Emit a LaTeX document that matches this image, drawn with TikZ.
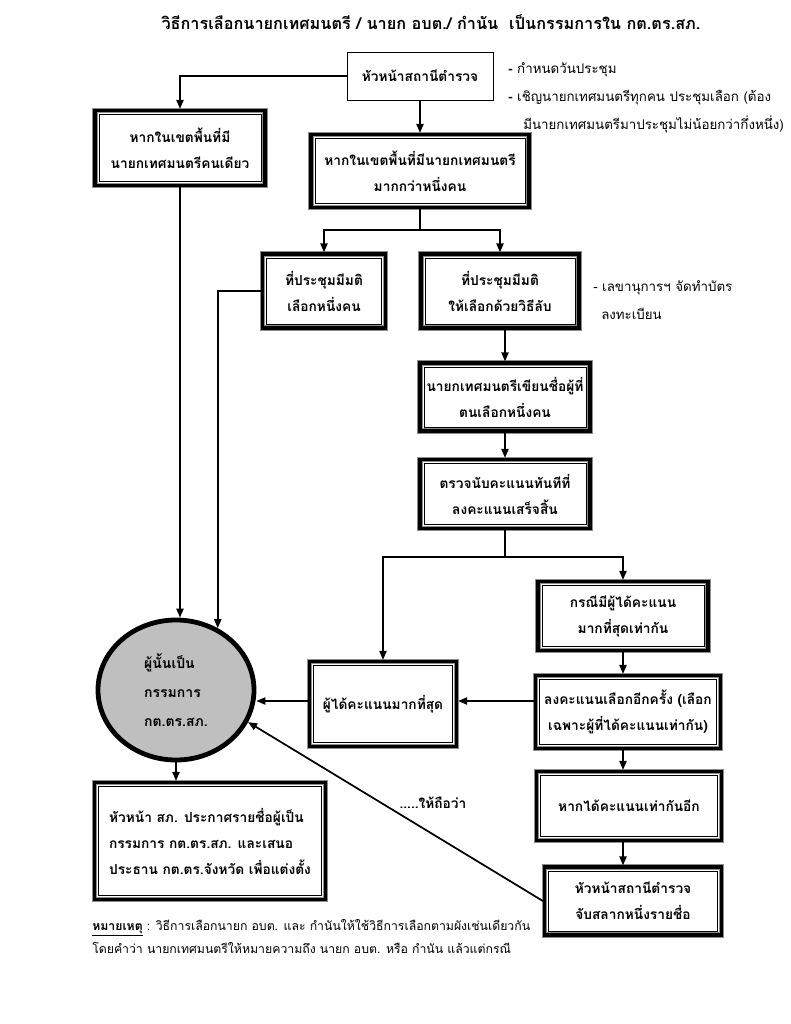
\documentclass[tikz,border=0pt]{standalone}
\usepackage{fontspec}
\newfontfamily\thai[Script=Thai]{Loma}
\usetikzlibrary{arrows.meta,shapes.geometric}
\newcommand{\boxfont}{\thai\bfseries\fontsize{10.3}{19.5}\selectfont}
\newcommand{\notefont}{\thai\fontsize{10}{19}\selectfont}
\tikzset{
  sz/.style 2 args={minimum width=#1*0.75pt, minimum height=#2*0.75pt},
  dbox/.style={draw=black, line width=2.4pt, inner sep=2pt, align=center, font=\boxfont,
    preaction={draw=black!45, line width=3.8pt},
    path picture={\draw[line width=0.5pt] ([shift={(2.9pt,2.9pt)}]path picture bounding box.south west) rectangle ([shift={(-2.9pt,-2.9pt)}]path picture bounding box.north east);}},
  pbox/.style={draw=black, line width=0.6pt, inner sep=2pt, align=center, font=\boxfont},
  conn/.style={line width=1.3pt},
  arr/.style={conn, -{Triangle[length=6.8pt,width=5.4pt]}},
  txt/.style={inner sep=0pt, anchor=west, font=\notefont},
}
\begin{document}
\begin{tikzpicture}[x=0.75pt,y=-0.75pt]
\useasboundingbox (0,0) rectangle (791,1024);
% title
\node[inner sep=0pt, font=\thai\bfseries\fontsize{12.2}{15}\selectfont] (title) at (431,22)
  {วิธีการเลือกนายกเทศมนตรี / นายก อบต./ กำนัน \ เป็นกรรมการใน กต.ตร.สภ.};
% nodes
\node[pbox, sz={146}{48}] (top) at (420,76) {หัวหน้าสถานีตำรวจ};
\node[txt] (n1) at (508,70) {\textbf{-} กำหนดวันประชุม};
\node[txt] (n2) at (508,98) {\textbf{-} เชิญนายกเทศมนตรีทุกคน ประชุมเลือก (ต้อง};
\node[txt] (n3) at (523,124) {มีนายกเทศมนตรีมาประชุมไม่น้อยกว่ากึ่งหนึ่ง)};
\node[dbox, sz={170}{75}] (b1) at (180,148) {หากในเขตพื้นที่มี\\นายกเทศมนตรีคนเดียว};
\node[dbox, sz={218}{73}] (b2) at (420,171) {หากในเขตพื้นที่มีนายกเทศมนตรี\\มากกว่าหนึ่งคน};
\node[dbox, sz={123}{74}] (b3) at (324,291) {ที่ประชุมมีมติ\\เลือกหนึ่งคน};
\node[dbox, sz={158}{74}] (b4) at (500,291) {ที่ประชุมมีมติ\\ให้เลือกด้วยวิธีลับ};
\node[txt] (n4) at (593,288) {- เลขานุการฯ จัดทำบัตร};
\node[txt] (n5) at (601,314) {ลงทะเบียน};
\node[dbox, sz={170}{68}] (b5) at (505,397) {นายกเทศมนตรีเขียนชื่อผู้ที่\\ตนเลือกหนึ่งคน};
\node[dbox, sz={170}{69}] (b6) at (505,494) {ตรวจนับคะแนนทันทีที่\\ลงคะแนนเสร็จสิ้น};
\node[dbox, sz={170}{69}] (b7) at (623,616) {กรณีมีผู้ได้คะแนน\\มากที่สุดเท่ากัน};
\node[dbox, sz={185}{73}] (b8) at (628,712) {ลงคะแนนเลือกอีกครั้ง (เลือก\\เฉพาะผู้ที่ได้คะแนนเท่ากัน)};
\node[dbox, sz={147}{85}] (b9) at (383,704) {ผู้ได้คะแนนมากที่สุด};
\node[ellipse, draw=black, line width=3.6pt, fill=black!25, minimum width=156*0.75pt, minimum height=140*0.75pt,
  inner sep=0pt, align=left, font=\thai\bfseries\fontsize{10.5}{21.5}\selectfont] (circ) at (176,690)
  {ผู้นั้นเป็น\\กรรมการ\\กต.ตร.สภ.};
\node[dbox, sz={231}{117}, align=left] (b10) at (210,841)
  {หัวหน้า สภ. ประกาศรายชื่อผู้เป็น\\กรรมการ กต.ตร.สภ. และเสนอ\\ประธาน กต.ตร.จังหวัด เพื่อแต่งตั้ง};
\node[dbox, sz={185}{69}] (b11) at (629,806) {หากได้คะแนนเท่ากันอีก};
\node[dbox, sz={177}{68}] (b12) at (633,901) {หัวหน้าสถานีตำรวจ\\จับสลากหนึ่งรายชื่อ};
\node[inner sep=0pt, font=\boxfont] (lbl) at (433,803) {.....ให้ถือว่า};
\node[txt, font=\thai\fontsize{9.2}{18}\selectfont] (m1) at (92,928)
  {\underline{\textbf{หมายเหตุ}} : วิธีการเลือกนายก อบต. และ กำนันให้ใช้วิธีการเลือกตามผังเช่นเดียวกัน};
\node[txt, font=\thai\fontsize{9.2}{18}\selectfont] (m2) at (92,948)
  {โดยคำว่า นายกเทศมนตรีให้หมายความถึง นายก อบต. หรือ กำนัน แล้วแต่กรณี};
% helper coordinates
\coordinate (s1) at (420,230);
\coordinate (s2) at (505,557);
\coordinate (row) at (0,701);
% connectors
\draw[arr] (top.west) -| (b1.north);
\draw[arr] (top.south) -- (b2.north);
\draw[conn] (b2.south) -- (s1);
\draw[arr] (s1) -| (b3.north);
\draw[arr] (s1) -| (b4.north);
\draw[arr] (b5.north |- b4.south) -- (b5.north);
\draw[arr] (b5.south) -- (b6.north);
\draw[conn] (b6.south) -- (s2);
\draw[arr] (s2) -| (b9.north);
\draw[arr] (s2) -| (b7.north);
\draw[arr] (b7.south) -- (b7.south |- b8.north);
\draw[arr] (b8.south -| b7.south) -- (b11.north -| b7.south);
\draw[arr] (b11.south -| b7.south) -- (b12.north -| b7.south);
\draw[arr] (b8.west |- row) -- (b9.east |- row);
\draw[arr] (b9.west |- row) -- (circ.east |- row);
\draw[arr] (b1.south) -- (b1.south |- circ.north);
\draw[arr] (b3.west) -| (circ.56);
\draw[arr] (circ.south) -- (circ.south |- b10.north);
\draw[arr] (b12.west) -- (circ.-24);
\end{tikzpicture}
\end{document}
